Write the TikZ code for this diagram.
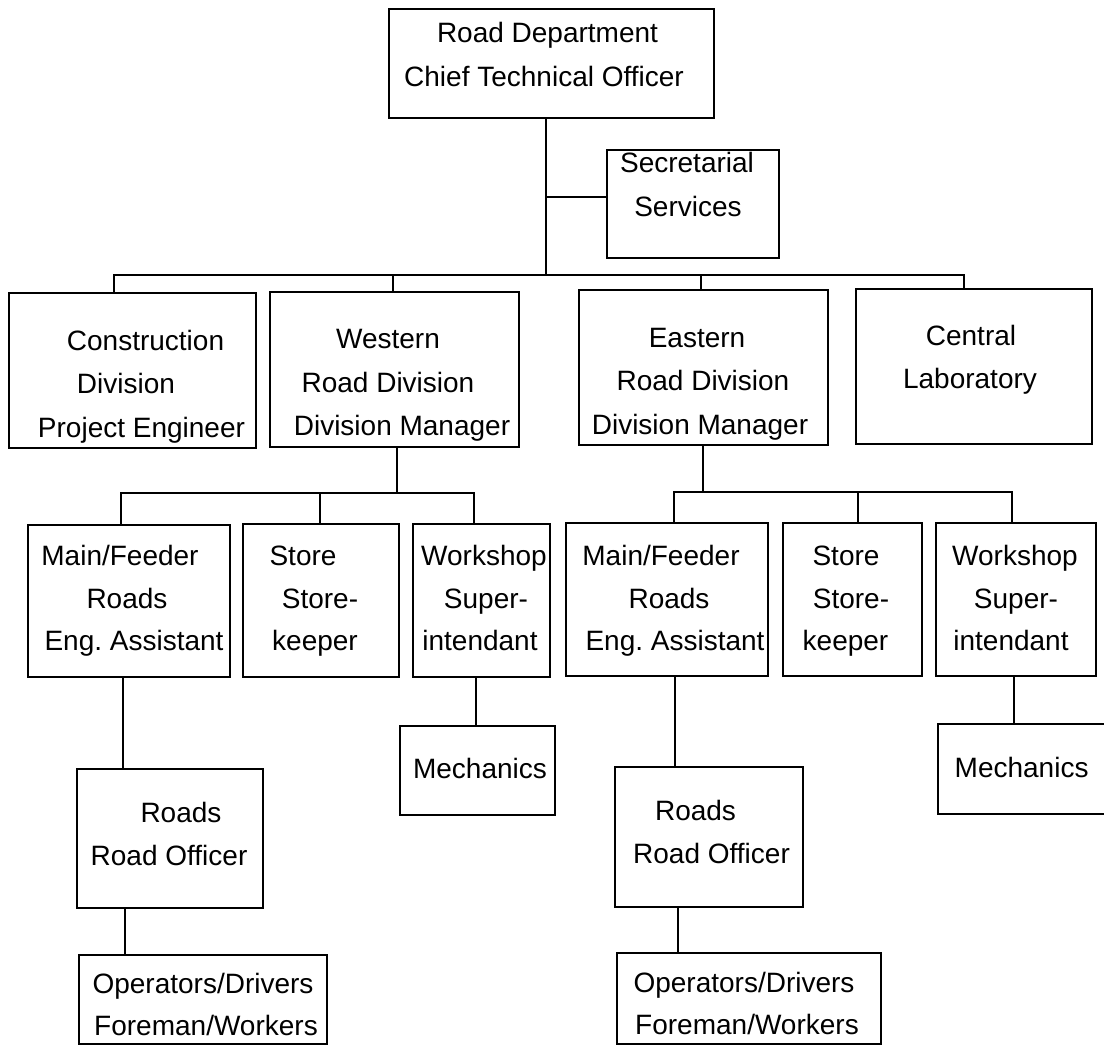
\documentclass[tikz,border=0pt]{standalone}
\usepackage{fontspec}
\setmainfont{Liberation Sans}
\begin{document}
\begin{tikzpicture}[x=1pt,y=-1pt,
  box/.style={draw=black, line width=2.1pt, rectangle, inner sep=0pt, outer sep=0pt},
  conn/.style={draw=black, line width=2.1pt},
  txt/.style={anchor=base, inner sep=0pt, font=\fontsize{28}{43}\selectfont}]
\newcommand\bx[5]{\node[box, minimum width={#4-#2}, minimum height={#5-#3}] (#1) at ({(#2+#4)/2},{(#3+#5)/2}) {};}
\newcommand\tl[4]{\node[txt] (#1) at (#2,{#3+10}) {#4};}
\fill[white] (0,0) rectangle (1104,1046);
\useasboundingbox (0,0) rectangle (1104,1046);
% boxes
\bx{top}{389}{9}{714}{118}
\bx{sec}{607}{150}{779}{258}
\bx{con}{9}{293}{256}{448}
\bx{wes}{270}{292}{519}{447}
\bx{eas}{579}{290}{828}{445}
\bx{cen}{856}{289}{1092}{444}
\bx{mfw}{28}{525}{230}{677}
\bx{stw}{243}{524}{399}{677}
\bx{wsw}{413}{524}{550}{677}
\bx{mfe}{566}{523}{768}{676}
\bx{ste}{783}{523}{922}{676}
\bx{wse}{936}{523}{1096}{676}
\bx{row}{77}{769}{263}{908}
\bx{mew}{400}{726}{555}{815}
\bx{roe}{615}{767}{803}{907}
\bx{mee}{938}{724}{1115}{814}
\bx{opw}{79}{955}{327}{1044}
\bx{ope}{617}{953}{881}{1044}
% texts
\tl{t-top1}{547.5}{33}{Road Department}
\tl{t-top2}{544}{77}{Chief Technical Officer}
\tl{t-sec1}{687}{163}{Secretarial}
\tl{t-sec2}{688}{207}{Services}
\tl{t-con1}{145.5}{340}{Construction}
\tl{t-con2}{126}{383}{Division}
\tl{t-con3}{141.5}{427}{Project Engineer}
\tl{t-wes1}{388}{338}{Western}
\tl{t-wes2}{388}{382}{Road Division}
\tl{t-wes3}{402}{425}{Division Manager}
\tl{t-eas1}{697}{337}{Eastern}
\tl{t-eas2}{703}{380}{Road Division}
\tl{t-eas3}{700}{424}{Division Manager}
\tl{t-cen1}{971}{335}{Central}
\tl{t-cen2}{970}{378}{Laboratory}
\tl{t-mfw1}{120}{555}{Main/Feeder}
\tl{t-mfw2}{127}{598}{Roads}
\tl{t-mfw3}{134}{640}{Eng.\ Assistant}
\tl{t-stw1}{303}{555}{Store}
\tl{t-stw2}{320}{598}{Store-}
\tl{t-stw3}{315}{640}{keeper}
\tl{t-wsw1}{484}{555}{Workshop}
\tl{t-wsw2}{486}{598}{Super-}
\tl{t-wsw3}{480}{640}{intendant}
\tl{t-mfe1}{661}{555}{Main/Feeder}
\tl{t-mfe2}{669}{598}{Roads}
\tl{t-mfe3}{675}{640}{Eng.\ Assistant}
\tl{t-ste1}{846}{555}{Store}
\tl{t-ste2}{851}{598}{Store-}
\tl{t-ste3}{845.5}{640}{keeper}
\tl{t-wse1}{1015}{555}{Workshop}
\tl{t-wse2}{1016}{598}{Super-}
\tl{t-wse3}{1011}{640}{intendant}
\tl{t-row1}{181}{812}{Roads}
\tl{t-row2}{169}{855}{Road Officer}
\tl{t-mew1}{480}{768}{Mechanics}
\tl{t-roe1}{695.5}{810}{Roads}
\tl{t-roe2}{711.5}{853}{Road Officer}
\tl{t-mee1}{1021.6}{767}{Mechanics}
\tl{t-opw1}{203}{983}{Operators/Drivers}
\tl{t-opw2}{206}{1025}{Foreman/Workers}
\tl{t-ope1}{744}{982}{Operators/Drivers}
\tl{t-ope2}{747}{1024}{Foreman/Workers}
% junction coordinates
\coordinate (j0) at (546,275);
\coordinate (j1) at (546,197);
\coordinate (c1) at (114,275);
\coordinate (c2) at (393,275);
\coordinate (c3) at (701,275);
\coordinate (c4) at (964,275);
\coordinate (w0) at (397,493);
\coordinate (w1) at (121,493);
\coordinate (w2) at (320,493);
\coordinate (w3) at (474,493);
\coordinate (e0) at (703,492);
\coordinate (e1) at (674,492);
\coordinate (e2) at (858,492);
\coordinate (e3) at (1012,492);
\coordinate (v1) at (123,700);
\coordinate (v2) at (125,930);
\coordinate (v3) at (476,700);
\coordinate (v4) at (675,700);
\coordinate (v5) at (678,930);
\coordinate (v6) at (1014,700);
% connectors
\draw[conn] (j0 |- top.south) -- (j0);
\draw[conn] (j1) -- (j1 -| sec.west);
\draw[conn] (c1 |- con.north) -- (c1) -- (c4) -- (c4 |- cen.north);
\draw[conn] (c2) -- (c2 |- wes.north);
\draw[conn] (c3) -- (c3 |- eas.north);
\draw[conn] (w0 |- wes.south) -- (w0);
\draw[conn] (w1 |- mfw.north) -- (w1) -- (w3) -- (w3 |- wsw.north);
\draw[conn] (w2) -- (w2 |- stw.north);
\draw[conn] (e0 |- eas.south) -- (e0);
\draw[conn] (e1 |- mfe.north) -- (e1) -- (e3) -- (e3 |- wse.north);
\draw[conn] (e2) -- (e2 |- ste.north);
\draw[conn] (v1 |- mfw.south) -- (v1 |- row.north);
\draw[conn] (v2 |- row.south) -- (v2 |- opw.north);
\draw[conn] (v3 |- wsw.south) -- (v3 |- mew.north);
\draw[conn] (v4 |- mfe.south) -- (v4 |- roe.north);
\draw[conn] (v5 |- roe.south) -- (v5 |- ope.north);
\draw[conn] (v6 |- wse.south) -- (v6 |- mee.north);
\end{tikzpicture}
\end{document}
